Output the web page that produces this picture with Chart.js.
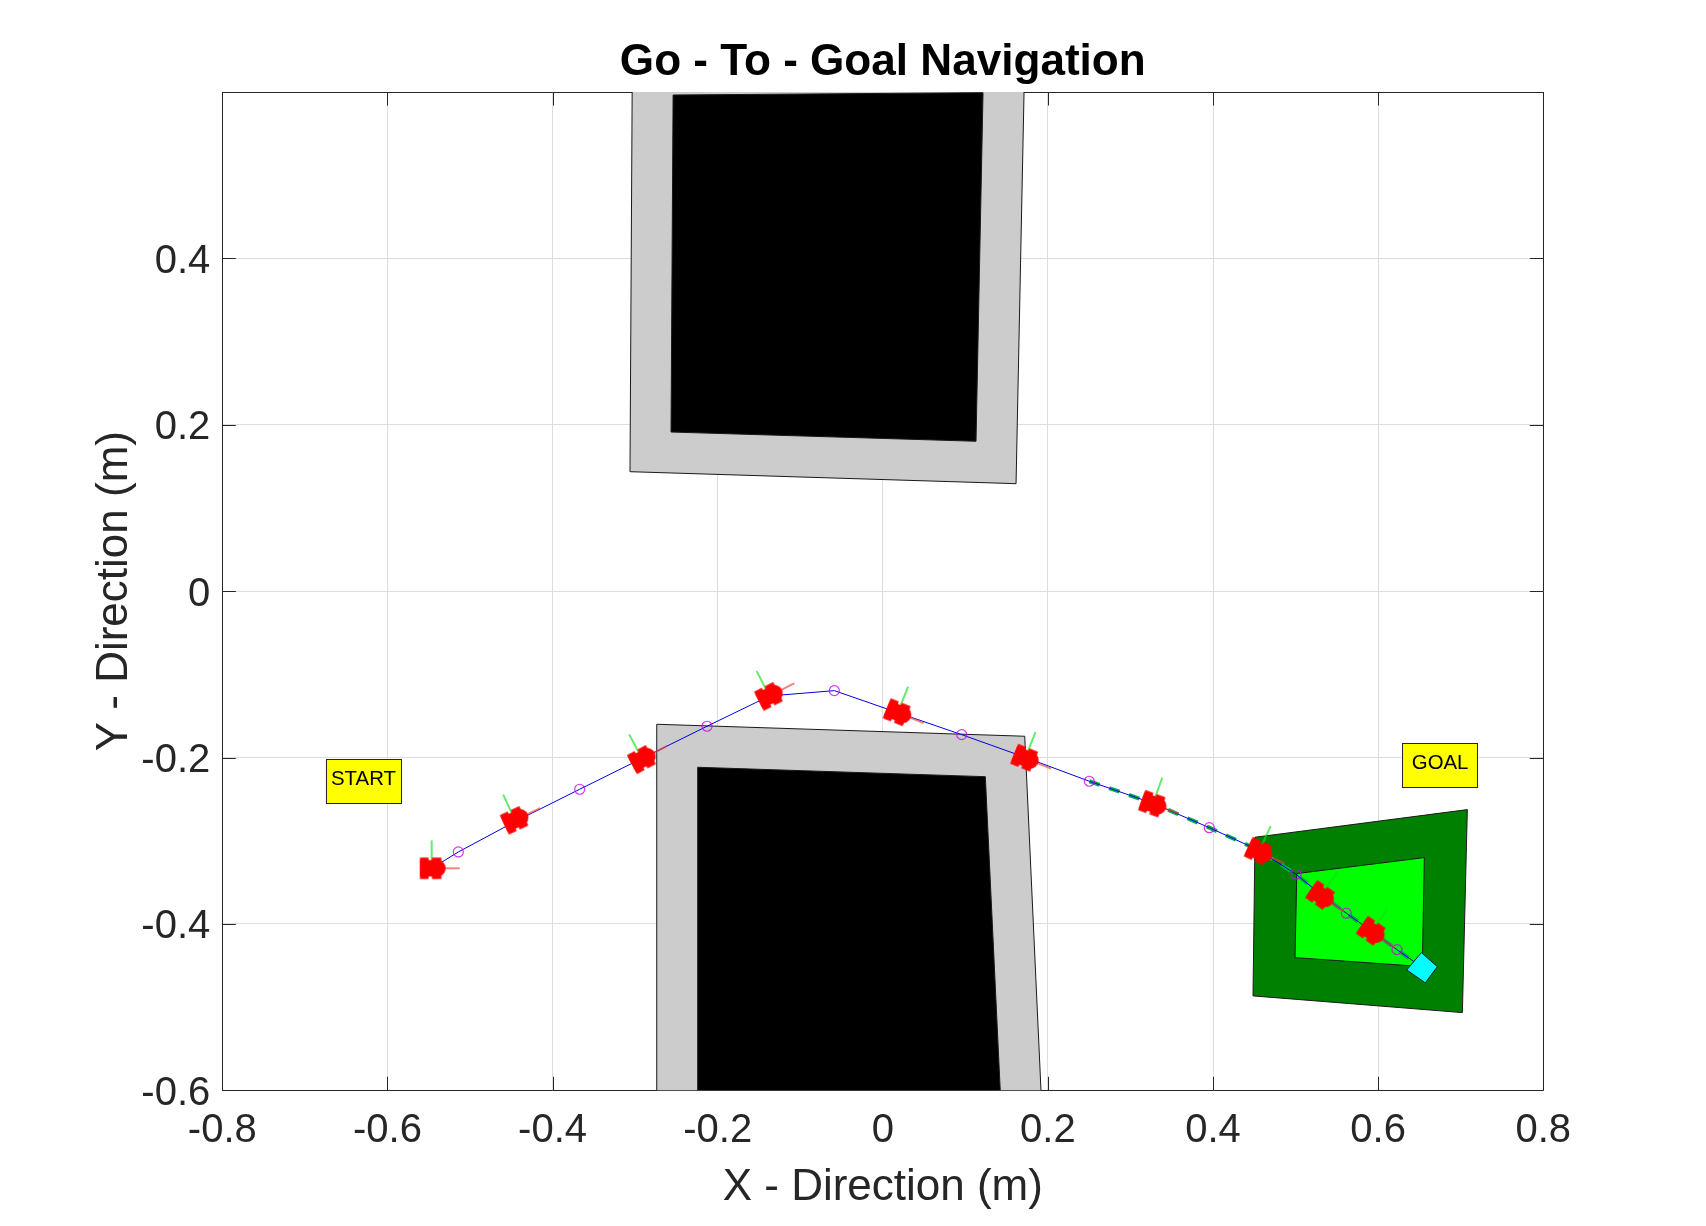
<!DOCTYPE html>
<html>
<head>
<meta charset="utf-8">
<style>html,body{margin:0;padding:0;background:#fff}canvas{display:block}</style>
<script src="https://cdn.jsdelivr.net/npm/chart.js@4"></script>
</head>
<body>
<canvas id="c" width="1706" height="1226"></canvas>
<script>
const xTicks = [-0.8,-0.6,-0.4,-0.2,0,0.2,0.4,0.6,0.8];
const yTicks = [-0.6,-0.4,-0.2,0,0.2,0.4];

const upperGrayX = [-0.3034,0.1717,0.1614,-0.3062];
const upperGrayY = [0.63,0.63,0.1292,0.1436];
const upperBlackX = [-0.2540,0.1214,0.1129,-0.2565];
const upperBlackY = [0.5964,0.5992,0.1802,0.1913];
const lowerGrayX = [-0.2738,0.1719,0.1930,-0.2738];
const lowerGrayY = [-0.16,-0.1744,-0.63,-0.63];
const lowerBlackX = [-0.2242,0.1242,0.1432,-0.2242];
const lowerBlackY = [-0.2117,-0.2230,-0.62,-0.62];
const goalDarkX = [0.4508,0.708,0.702,0.4484];
const goalDarkY = [-0.2958,-0.2626,-0.5066,-0.4865];
const goalLightX = [0.5014,0.6559,0.6535,0.4993];
const goalLightY = [-0.3395,-0.3203,-0.4513,-0.4405];
const targetX = [0.6523,0.6717,0.6571,0.6346];
const targetY = [-0.4345,-0.4513,-0.4709,-0.4553];

const robotX = [-0.5464,-0.4455,-0.2913,-0.1374,0.018,0.1723,0.3269,0.4555,0.5306,0.592];
const robotY = [-0.3331,-0.275,-0.2019,-0.126,-0.146,-0.2007,-0.2559,-0.313,-0.3659,-0.409];
const robotHeading = [0,25,28,27,-22,-22,-20,-25,-35,-35];

const waypointX = [-0.5141,-0.3671,-0.2129,-0.0587,0.0956,0.2501,0.3955,0.5005,0.5614,0.6228];
const waypointY = [-0.3135,-0.2381,-0.1624,-0.1196,-0.1725,-0.2285,-0.2843,-0.3403,-0.3871,-0.4309];

const pathX = [-0.5464,-0.5141,-0.4455,-0.3671,-0.2913,-0.2129,-0.1374,-0.0587,0.018,0.0956,0.1723,0.2501,0.3269,0.3955,0.4545,0.5005,0.5296,0.5614,0.591,0.6228,0.65];
const pathY = [-0.3331,-0.3135,-0.277,-0.2381,-0.2009,-0.1624,-0.126,-0.1196,-0.146,-0.1725,-0.1997,-0.2285,-0.2549,-0.2843,-0.311,-0.3403,-0.3639,-0.3871,-0.408,-0.4309,-0.45];
const tailX = [0.2501,0.3269,0.3955,0.4545,0.5005,0.5296,0.5614,0.591,0.6228,0.65];
const tailY = [-0.2285,-0.2549,-0.2843,-0.311,-0.3403,-0.3639,-0.3871,-0.408,-0.4309,-0.45];

const noteText = ["START","GOAL"];
const noteX = [-0.629,0.675];
const noteY = [-0.2281,-0.2093];

const titleText = "Go - To - Goal Navigation";
const xTitle = "X - Direction (m)";
const yTitle = "Y - Direction (m)";

const zip = (xs,ys)=>xs.map((x,i)=>({x,y:ys[i]}));
const closed = (xs,ys)=>{const p=zip(xs,ys);p.push(p[0]);return p;};

function robotSprite(){
  const c=document.createElement('canvas');c.width=c.height=70;
  const g=c.getContext('2d');g.translate(35,35);
  g.lineWidth=1.3;
  g.strokeStyle='#e84040';g.beginPath();g.moveTo(0,0);g.lineTo(28,0);g.stroke();
  g.strokeStyle='#10e020';g.beginPath();g.moveTo(0,0);g.lineTo(0,-28);g.stroke();
  g.fillStyle='#ff0000';
  g.fillRect(-11.7,-10.7,8.6,21.4);
  g.fillRect(0.3,-10.7,9.4,21.4);
  g.fillRect(-11.7,-8.2,20,16.4);
  g.beginPath();g.arc(5.6,0,8.4,0,Math.PI*2);g.fill();
  return c;
}

function poly(xs,ys,fill,order){
  return {data:closed(xs,ys),showLine:true,fill:'shape',backgroundColor:fill,borderColor:'#1a1a1a',borderWidth:1,
          pointRadius:0,tension:0,order};
}

const frameAndTicks={id:'frameAndTicks',beforeDatasetsDraw(ch){
  const {ctx,chartArea:a,scales:{x,y}}=ch;
  ctx.save();ctx.strokeStyle='#262626';ctx.lineWidth=1;
  const T=13.5;ctx.beginPath();
  ctx.rect(Math.round(a.left)+.5,Math.round(a.top)+.5,Math.round(a.right-a.left),Math.round(a.bottom-a.top));
  xTicks.forEach(v=>{const p=Math.round(x.getPixelForValue(v))+.5;
    ctx.moveTo(p,a.top);ctx.lineTo(p,a.top+T);ctx.moveTo(p,a.bottom);ctx.lineTo(p,a.bottom-T);});
  yTicks.forEach(v=>{const p=Math.round(y.getPixelForValue(v))+.5;
    ctx.moveTo(a.left,p);ctx.lineTo(a.left+T,p);ctx.moveTo(a.right,p);ctx.lineTo(a.right-T,p);});
  ctx.stroke();ctx.restore();
}};

const notes={id:'notes',afterDatasetsDraw(ch){
  const {ctx,scales:{x,y}}=ch;
  ctx.save();ctx.font='20.4px "Liberation Sans"';ctx.textAlign='center';ctx.textBaseline='middle';
  noteText.forEach((t,i)=>{
    const px=x.getPixelForValue(noteX[i]),py=y.getPixelForValue(noteY[i]);
    ctx.fillStyle='#ffff00';ctx.strokeStyle='#262626';ctx.lineWidth=1;
    ctx.fillRect(px-37.8,py-22,75.6,44);
    ctx.strokeRect(Math.round(px-37.8)+.5,Math.round(py-22)+.5,75,44);
    ctx.fillStyle='#000';ctx.fillText(t,px,py-1.5);
  });
  ctx.restore();
}};

new Chart(document.getElementById('c'),{
  type:'scatter',
  data:{datasets:[
    {label:'robots',data:zip(robotX,robotY),pointStyle:robotSprite(),pointRadius:20,pointRotation:robotHeading.map(d=>-d),showLine:false,order:1},
    {label:'target',...poly(targetX,targetY,'#00ffff',2)},
    {label:'waypoints',data:zip(waypointX,waypointY),showLine:false,pointStyle:'circle',pointRadius:5,pointBorderWidth:1.2,
      pointBorderColor:'rgba(205,0,240,0.8)',pointBackgroundColor:'rgba(0,0,0,0)',order:3},
    {label:'path',data:zip(pathX,pathY),showLine:true,borderColor:'#0000e6',borderWidth:1,pointRadius:0,tension:0,order:4},
    {label:'tail',data:zip(tailX,tailY),showLine:true,borderColor:'#00b050',borderWidth:4,borderDash:[11,10],pointRadius:0,tension:0,order:5},
    {label:'goalLight',...poly(goalLightX,goalLightY,'#00ff00',6)},
    {label:'goalDark',...poly(goalDarkX,goalDarkY,'#008000',7)},
    {label:'lowerBlack',...poly(lowerBlackX,lowerBlackY,'#000000',8)},
    {label:'lowerGray',...poly(lowerGrayX,lowerGrayY,'#cccccc',9)},
    {label:'upperBlack',...poly(upperBlackX,upperBlackY,'#000000',10)},
    {label:'upperGray',...poly(upperGrayX,upperGrayY,'#cccccc',11)}
  ]},
  options:{
    responsive:false,animation:false,devicePixelRatio:1,
    layout:{padding:{left:0,right:162.7,top:0,bottom:0}},
    plugins:{
      legend:{display:false},tooltip:{enabled:false},
      title:{display:true,fullSize:false,text:titleText,color:'#000',font:{family:'"Liberation Sans"',size:44.1,weight:'bold',lineHeight:1.2},padding:{top:36.5,bottom:2.6}}
    },
    scales:{
      x:{type:'linear',min:-0.8,max:0.8,
        afterBuildTicks:s=>{s.ticks=xTicks.map(value=>({value}));},
        afterFit:s=>{s.height=135.7;},
        grid:{color:'#dedede',lineWidth:1,drawTicks:false},border:{display:false},
        ticks:{color:'#262626',font:{family:'"Liberation Sans"',size:40},padding:17,maxRotation:0,autoSkip:false,callback:v=>String(v)},
        title:{display:true,text:xTitle,color:'#262626',font:{family:'"Liberation Sans"',size:44,lineHeight:1},padding:{top:0,bottom:16}}
      },
      y:{type:'linear',min:-0.6,max:0.6,
        afterBuildTicks:s=>{s.ticks=yTicks.map(value=>({value}));},
        afterFit:s=>{s.width=222.3;},
        grid:{color:'#dedede',lineWidth:1,drawTicks:false},border:{display:false},
        ticks:{color:'#262626',font:{family:'"Liberation Sans"',size:40},padding:12,labelOffset:3.5,autoSkip:false,callback:v=>String(v)},
        title:{display:true,text:yTitle,color:'#262626',font:{family:'"Liberation Sans"',size:44,lineHeight:1},padding:{top:93,bottom:0}}
      }
    }
  },
  plugins:[frameAndTicks,notes]
});
</script>
</body>
</html>
